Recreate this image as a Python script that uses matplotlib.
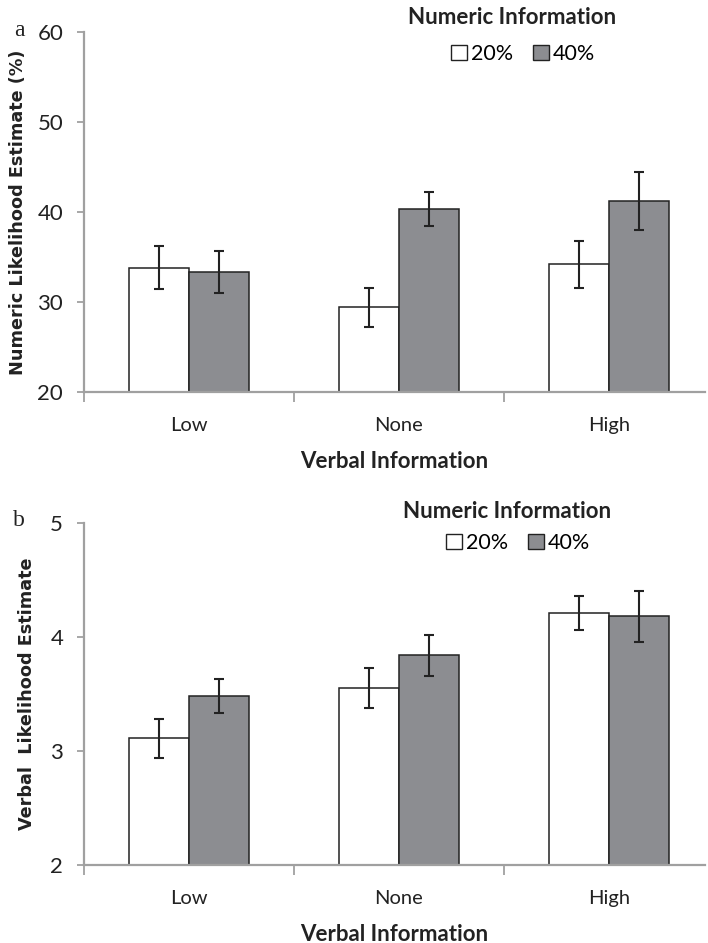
"""Numeric / verbal likelihood estimates by verbal and numeric information"""

import matplotlib

matplotlib.use("Agg")
import matplotlib.pyplot as plt
from matplotlib.patches import Patch
import numpy as np

# データ
categories = ["Low", "None", "High"]
series_labels = ["20%", "40%"]

numeric_20 = [33.8, 29.4, 34.2]
numeric_20_err = [2.4, 2.2, 2.6]
numeric_40 = [33.3, 40.3, 41.2]
numeric_40_err = [2.35, 1.9, 3.2]

verbal_20 = [3.11, 3.55, 4.21]
verbal_20_err = [0.17, 0.175, 0.15]
verbal_40 = [3.48, 3.84, 4.18]
verbal_40_err = [0.15, 0.18, 0.22]

SANS = ["Lato", "DejaVu Sans"]
GRAY = "#8c8d91"
SPINE = "#a0a0a0"
EDGE = "#222222"

W, H = 708, 943
fig = plt.figure(figsize=(W / 100, H / 100), dpi=100)


def draw_panel(ax, v20, e20, v40, e40, ylim, yticks, ylabel, label_x,
               letter, title_xy, legend_xy):
    x = np.arange(len(categories))
    w = 0.286
    ekw = dict(elinewidth=1.5, capthick=1.5, ecolor=EDGE)
    ax.bar(x - w / 2, v20, w, yerr=e20, capsize=3.6, error_kw=ekw,
           color="white", edgecolor=EDGE, linewidth=1.1, zorder=2)
    ax.bar(x + w / 2, v40, w, yerr=e40, capsize=3.6, error_kw=ekw,
           color=GRAY, edgecolor=EDGE, linewidth=1.1, zorder=2)

    ax.set_xlim(-0.5, -0.5 + 621 / 210)
    ax.set_ylim(*ylim)
    ax.set_yticks(yticks)
    ax.set_yticklabels([str(t) for t in yticks], family=SANS, fontsize=16,
                       color="#222222")
    # 区切り目盛り（カテゴリ境界）とカテゴリラベル
    ax.set_xticks([-0.5, 0.5, 1.5])
    ax.set_xticklabels([])
    ax.set_xticks(x, minor=True)
    ax.set_xticklabels(categories, minor=True, family=SANS, fontsize=14.5,
                       color="#222222")
    ax.tick_params(axis="x", which="major", direction="out", length=7,
                   color=SPINE, width=1.3)
    ax.tick_params(axis="x", which="minor", length=0, pad=18)
    ax.tick_params(axis="y", direction="out", length=5, color=SPINE,
                   width=1.3, pad=10)

    for side in ("top", "right"):
        ax.spines[side].set_visible(False)
    for side in ("left", "bottom"):
        ax.spines[side].set_color(SPINE)
        ax.spines[side].set_linewidth(1.6)

    ax.set_ylabel(ylabel, fontsize=12.7, fontweight="bold", color="#222222")
    ax.yaxis.set_label_coords(label_x, 0.5)
    ax.set_xlabel("Verbal Information", family=SANS, fontsize=16,
                  fontweight="bold", labelpad=12, color="#222222")

    # 凡例
    fig.text(title_xy[0] / W, 1 - title_xy[1] / H, "Numeric Information",
             family=SANS, fontsize=16, fontweight="bold", ha="center",
             va="center", color="#222222")
    handles = [
        Patch(facecolor="white", edgecolor=EDGE, linewidth=1.0),
        Patch(facecolor=GRAY, edgecolor=EDGE, linewidth=1.0),
    ]
    ax.legend(handles, series_labels, ncol=2, frameon=False, loc="center",
              bbox_to_anchor=(legend_xy[0] / W, 1 - legend_xy[1] / H),
              bbox_transform=fig.transFigure, handlelength=0.75,
              handleheight=0.75, handletextpad=0.2, columnspacing=0.9,
              borderpad=0, prop=dict(family=SANS, size=15.5))

    fig.text(19 / W, 1 - letter[1] / H, letter[0], family="Liberation Serif",
             fontsize=17, va="center", ha="center", color="#222222")


ax1 = fig.add_axes([84 / W, 1 - 392 / H, 621 / W, (392 - 32) / H])
draw_panel(ax1, numeric_20, numeric_20_err, numeric_40, numeric_40_err,
           (20, 60), [20, 30, 40, 50, 60], "Numeric Likelihood Estimate (%)",
           -0.092, ("a", 30), (512, 18), (523, 54))

ax2 = fig.add_axes([84 / W, 1 - 865 / H, 621 / W, (865 - 523) / H])
draw_panel(ax2, verbal_20, verbal_20_err, verbal_40, verbal_40_err,
           (2, 5), [2, 3, 4, 5], "Verbal  Likelihood Estimate",
           -0.077, ("b", 521), (507, 511), (518, 543))

fig.savefig("out.png", dpi=100)
